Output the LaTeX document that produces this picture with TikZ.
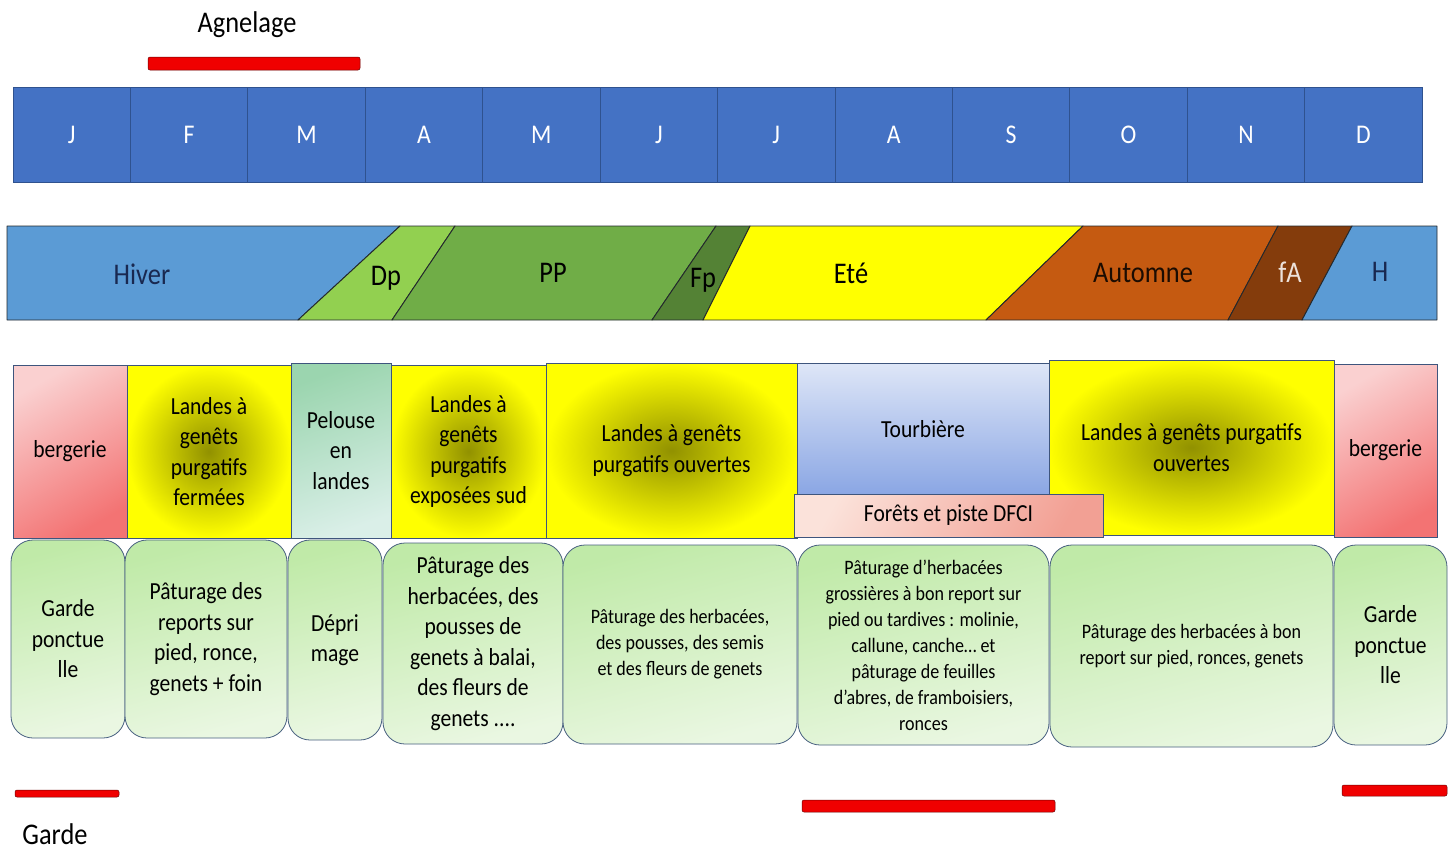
\documentclass[tikz,border=0pt]{standalone}
\usepackage{fontspec}
\setmainfont{Carlito}[FakeStretch=0.88]
\usetikzlibrary{calc,positioning}
\definecolor{MonthBlue}{RGB}{68,114,196}
\definecolor{MonthLine}{RGB}{47,82,143}
\definecolor{WinterBlue}{RGB}{91,155,213}
\definecolor{DpGreen}{RGB}{146,208,80}
\definecolor{PPGreen}{RGB}{112,173,71}
\definecolor{FpGreen}{RGB}{84,130,53}
\definecolor{SummerYellow}{RGB}{255,255,0}
\definecolor{AutumnOrange}{RGB}{197,90,17}
\definecolor{FaBrown}{RGB}{132,60,12}
\definecolor{BandLine}{RGB}{35,40,45}
\definecolor{NavyText}{RGB}{25,40,80}
\definecolor{BoxLine}{RGB}{62,85,125}
\definecolor{GenetCore}{RGB}{145,145,0}
\definecolor{PinkLight}{RGB}{250,208,208}
\definecolor{PinkDeep}{RGB}{243,115,115}
\definecolor{GrassTop}{RGB}{155,213,175}
\definecolor{GrassBottom}{RGB}{218,239,232}
\definecolor{PeatTop}{RGB}{222,230,247}
\definecolor{PeatBottom}{RGB}{138,166,228}
\definecolor{ForestLight}{RGB}{251,226,218}
\definecolor{ForestDeep}{RGB}{242,160,148}
\definecolor{PastureTop}{RGB}{192,234,168}
\definecolor{PastureBottom}{RGB}{234,247,226}
\definecolor{PastureLine}{RGB}{72,96,128}
\definecolor{BarRed}{RGB}{240,0,0}

\begin{document}
\begin{tikzpicture}[x=1pt,y=-1pt,
    month/.style={fill=MonthBlue,draw=MonthLine,line width=0.8pt,minimum width=117.42pt,
      minimum height=95pt,inner sep=0pt,text=white,font=\fontsize{27}{27}\selectfont},
    season/.style={font=\fontsize{30}{30}\selectfont},
    band/.style={draw=BandLine,line width=0.9pt,line join=round},
    habitat/.style={draw=BoxLine,line width=0.8pt,inner sep=0pt,align=center,
      font=\fontsize{24.5}{30.5}\selectfont},
    genet/.style={habitat,inner color=GenetCore,outer color=SummerYellow},
    sheep/.style={habitat,top color=PinkLight,bottom color=PinkDeep,shading angle=30},
    pasture/.style={draw=PastureLine,line width=0.8pt,rounded corners=22pt,inner sep=0pt,
      top color=PastureTop,bottom color=PastureBottom,shading angle=15,align=center,
      font=\fontsize{24.5}{30.5}\selectfont},
    small/.style={font=\fontsize{20.5}{26}\selectfont},
    redbar/.style={fill=BarRed,draw=BarRed!45!black,line width=0.5pt,rounded corners=2pt,
      inner sep=0pt}]
  \useasboundingbox[fill=white] (0,0) rectangle (1452,852);

  \node[redbar,minimum width=212pt,minimum height=13pt] (agnBar) at (254,63.5) {};
  \node[font=\fontsize{30}{30}\selectfont] (agnelage) at (247,25) {Agnelage};

  \foreach \m [count=\i] in {J,F,M,A,M,J,J,A,S,O,N,D}
    \node[month] (m\i) at ({13+117.42*(\i-0.5)},134.5) {\m};

  \filldraw[band,fill=WinterBlue] (7,226)--(400,226)--(298,320)--(7,320)--cycle;
  \filldraw[band,fill=DpGreen] (400,226)--(455,226)--(392,320)--(298,320)--cycle;
  \filldraw[band,fill=PPGreen] (455,226)--(716,226)--(652,320)--(392,320)--cycle;
  \filldraw[band,fill=FpGreen] (716,226)--(750,226)--(703,320)--(652,320)--cycle;
  \filldraw[band,fill=SummerYellow] (750,226)--(1083,226)--(986,320)--(703,320)--cycle;
  \filldraw[band,fill=AutumnOrange] (1083,226)--(1278,226)--(1228,320)--(986,320)--cycle;
  \filldraw[band,fill=FaBrown] (1278,226)--(1352,226)--(1302,320)--(1228,320)--cycle;
  \filldraw[band,fill=WinterBlue] (1352,226)--(1437,226)--(1437,320)--(1302,320)--cycle;
  \node[season,text=NavyText] (hiver) at (142,274) {Hiver};
  \node[season] (dp) at (386,278) {Dp};
  \node[season] (pp) at (553,273) {PP};
  \node[season] (fp) at (703,280) {Fp};
  \node[season] (ete) at (851,273) {Eté};
  \node[season,text=black!80!FaBrown] (automne) at (1143,273) {Automne};
  \node[season,text=white!85!FaBrown] (fa) at (1290,272) {fA};
  \node[season,text=NavyText] (h) at (1380,272) {H};

  \node[sheep,minimum width=114pt,minimum height=173pt] (bergL) at (70,451.5) {bergerie};
  \node[genet,minimum width=164pt,minimum height=173pt] (fermees) at (209,451.5)
    {Landes à\\genêts\\purgatifs\\fermées};
  \node[habitat,top color=GrassTop,bottom color=GrassBottom,shading angle=20,
    minimum width=100pt,minimum height=175pt] (pelouse) at (341,450.5) {Pelouse\\en\\landes};
  \node[genet,minimum width=155pt,minimum height=173pt] (sud) at (468.5,451.5)
    {Landes à\\genêts\\purgatifs\\exposées sud};
  \node[genet,minimum width=251pt,minimum height=175pt] (ouvL) at (671.5,450.5)
    {Landes à genêts\\purgatifs ouvertes};
  \node[habitat,top color=PeatTop,bottom color=PeatBottom,
    minimum width=252pt,minimum height=132pt] (tourbiere) at (923,429) {Tourbière};
  \node[genet,minimum width=285pt,minimum height=175pt] (ouvR) at (1191.5,447.5)
    {Landes à genêts purgatifs\\ouvertes};
  \node[habitat,top color=ForestLight,bottom color=ForestDeep,shading angle=60,
    minimum width=309pt,minimum height=43pt] (foret) at (948.5,515.5) {Forêts et piste DFCI};
  \node[sheep,minimum width=103pt,minimum height=173pt] (bergR) at (1385.5,450.5) {bergerie};

  \node[pasture,minimum width=114pt,minimum height=198pt] (gardeL) at (68,639)
    {Garde\\ponctue\\lle};
  \node[pasture,minimum width=162pt,minimum height=198pt] (reports) at (206,639)
    {Pâturage des\\reports sur\\pied, ronce,\\genets + foin};
  \node[pasture,minimum width=94pt,minimum height=200pt] (deprimage) at (335,640)
    {Dépri\\mage};
  \node[pasture,minimum width=180pt,minimum height=201pt] (balai) at (473,643.5)
    {Pâturage des\\herbacées, des\\pousses de\\genets à balai,\\des fleurs de\\genets ....};
  \node[pasture,small,minimum width=234pt,minimum height=199pt] (semis) at (680,644.5)
    {Pâturage des herbacées,\\des pousses, des semis\\et des fleurs de genets};
  \node[pasture,small,minimum width=251pt,minimum height=200pt] (grossieres) at (923.5,645)
    {Pâturage d’herbacées\\grossières à bon report sur\\pied ou tardives : molinie,\\callune, canche… et\\pâturage de feuilles\\d’abres, de framboisiers,\\ronces};
  \node[pasture,small,minimum width=283pt,minimum height=202pt] (bonReport) at (1191.5,646)
    {Pâturage des herbacées à bon\\report sur pied, ronces, genets};
  \node[pasture,minimum width=113pt,minimum height=200pt] (gardeR) at (1390.5,645)
    {Garde\\ponctue\\lle};

  \node[redbar,minimum width=104pt,minimum height=7pt] (gardeBarL) at (67,793.5) {};
  \node[redbar,minimum width=253pt,minimum height=12pt] (gardeBarEte) at (928.5,806) {};
  \node[redbar,minimum width=105pt,minimum height=11pt] (gardeBarR) at (1394.5,790.5) {};
  \node[font=\fontsize{30}{30}\selectfont] (garde) at (55,834) {Garde};
\end{tikzpicture}
\end{document}
